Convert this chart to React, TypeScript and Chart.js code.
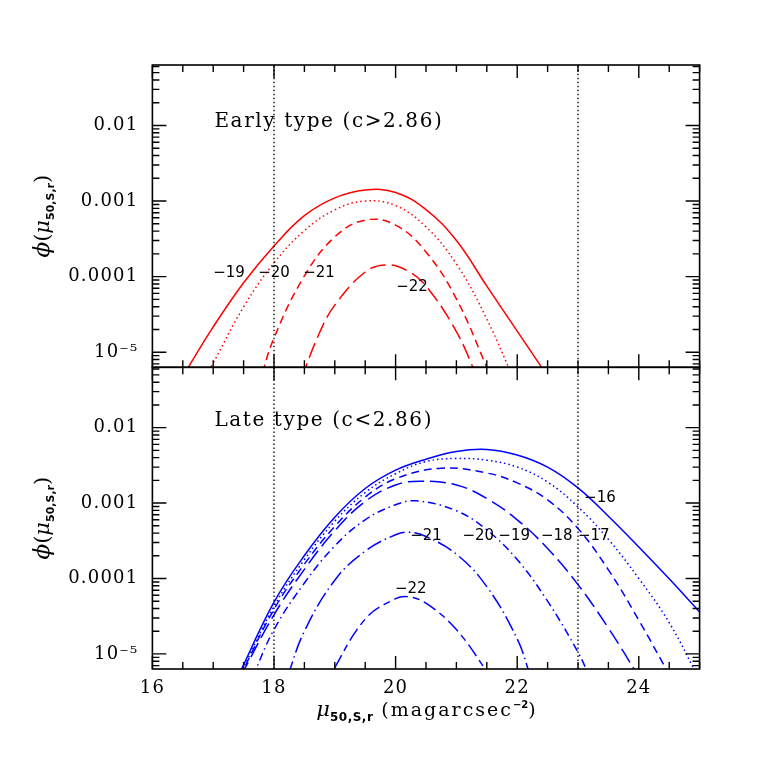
import React, { useEffect, useRef } from "react";
import { Chart, registerables } from "chart.js";
Chart.register(...registerables);

// ---------- axes ----------
const X_MIN = 16;
const X_MAX = 25;
const X_MINOR_STEP = 0.5;
const X_MAJOR_STEP = 2;
const Y_MIN = 6.31e-6;
const Y_MAX = 0.0631;
const X_TICK_LABELS = [16, 18, 20, 22, 24];
const Y_TICK_VALUES = [1e-5, 1e-4, 1e-3, 1e-2];
const Y_TICK_LABELS = ["10⁻⁵", "0.0001", "0.001", "0.01"];
const REF_LINES_X = [18, 23];

// ---------- Early type (c>2.86), red ----------
const E19_X = [16.5, 17, 17.5, 18, 18.5, 19, 19.5, 20, 20.5, 21, 21.5, 22, 22.5];
const E19_Y = [4.8e-6, 2.16e-5, 8.3e-5, 2.55e-4, 6.4e-4, 1.1e-3, 1.4e-3, 1.3e-3, 7.7e-4, 3.0e-4, 7.5e-5, 1.9e-5, 4.8e-6];
const E20_X = [16.9, 17, 17.5, 18, 18.5, 19, 19.5, 20, 20.5, 21, 21.5, 22];
const E20_Y = [5.1e-6, 7.2e-6, 3.97e-5, 1.52e-4, 4.06e-4, 7.64e-4, 1.0e-3, 8.7e-4, 4.55e-4, 1.47e-4, 2.75e-5, 3.4e-6];
const E21_X = [17.75, 18, 18.5, 19, 19.5, 20, 20.5, 21, 21.5, 21.6];
const E21_Y = [3.7e-6, 1.54e-5, 1.02e-4, 3.36e-4, 5.6e-4, 4.8e-4, 2.12e-4, 5.07e-5, 6.3e-6, 3.9e-6];
const E22_X = [18.45, 18.75, 19, 19.5, 19.85, 20.2, 20.5, 21, 21.35];
const E22_Y = [4.5e-6, 1.82e-5, 4.2e-5, 1.15e-4, 1.43e-4, 1.19e-4, 7.5e-5, 1.87e-5, 4.5e-6];

// ---------- Late type (c<2.86), blue ----------
const L16_X = [17.4, 18, 18.5, 19, 19.5, 20, 20.5, 21, 21.5, 22, 22.5, 23, 23.5, 24, 24.5, 25];
const L16_Y = [4.85e-6, 4.85e-5, 2.02e-4, 6.5e-4, 1.56e-3, 2.73e-3, 3.82e-3, 4.84e-3, 5.15e-3, 4.35e-3, 3.0e-3, 1.59e-3, 6.7e-4, 2.62e-4, 9.9e-5, 3.6e-5];
const L17_X = [17.42, 18, 18.5, 19, 19.5, 20, 20.5, 21, 21.5, 22, 22.5, 23, 23.5, 24, 24.5, 25];
const L17_Y = [4.85e-6, 4.27e-5, 1.78e-4, 5.75e-4, 1.38e-3, 2.45e-3, 3.55e-3, 3.9e-3, 3.7e-3, 3.0e-3, 1.9e-3, 8.9e-4, 3.3e-4, 1.0e-4, 2.6e-5, 4.5e-6];
const L18_X = [17.44, 18, 18.5, 19, 19.5, 20, 20.75, 21.5, 22, 22.5, 23, 23.5, 24, 24.55];
const L18_Y = [5.0e-6, 3.9e-5, 1.55e-4, 4.9e-4, 1.2e-3, 2.1e-3, 2.9e-3, 2.5e-3, 1.85e-3, 1.1e-3, 4.6e-4, 1.3e-4, 2.8e-5, 4.5e-6];
const L19_X = [17.45, 18, 18.5, 19, 19.5, 20, 20.4, 21, 21.5, 22, 22.5, 23, 23.5, 24.0];
const L19_Y = [5.0e-6, 3.3e-5, 1.32e-4, 4.3e-4, 1.05e-3, 1.74e-3, 1.95e-3, 1.74e-3, 1.15e-3, 6.0e-4, 2.5e-4, 8.3e-5, 2.2e-5, 5.0e-6];
const L20_X = [17.65, 18, 18.5, 19, 19.5, 20, 20.34, 21, 21.5, 22, 22.5, 23, 23.2];
const L20_Y = [5.0e-6, 2.1e-5, 8.7e-5, 2.7e-4, 6.0e-4, 9.5e-4, 1.07e-3, 7.9e-4, 4.4e-4, 1.78e-4, 5.0e-5, 1.05e-5, 4.8e-6];
const L21_X = [18.22, 18.5, 19, 19.5, 20, 20.23, 20.5, 21, 21.5, 22, 22.22];
const L21_Y = [5.0e-6, 2.0e-5, 9.5e-5, 2.3e-4, 3.8e-4, 4.1e-4, 3.6e-4, 2.1e-4, 7.8e-5, 1.58e-5, 5.0e-6];
const L22_X = [18.9, 19.5, 20, 20.2, 20.5, 21, 21.56];
const L22_Y = [4.8e-6, 2.9e-5, 5.4e-5, 5.75e-5, 4.7e-5, 2.1e-5, 5.0e-6];

// ---------- texts ----------
const EARLY_TITLE = "Early type (c>2.86)";
const LATE_TITLE = "Late type (c<2.86)";
const EARLY_LABELS = ["−19", "−20", "−21", "−22"];
const LATE_LABELS = ["−16", "−17", "−18", "−19", "−20", "−21", "−22"];

const RED = "#ff0000";
const BLUE = "#0000ff";
const SERIF = '"DejaVu Serif"';
const SANS = '"DejaVu Sans"';

const pts = (xs: number[], ys: number[]) => xs.map((x, i) => ({ x, y: ys[i] }));

function lineDs(xs: number[], ys: number[], color: string, dash: number[]) {
  return {
    data: pts(xs, ys),
    borderColor: color,
    borderWidth: 1.5,
    borderDash: dash,
    pointRadius: 0,
    fill: false,
    tension: 0.4,
    clip: 0,
  };
}

function refDs(x: number) {
  return {
    data: [{ x, y: Y_MIN }, { x, y: Y_MAX }],
    borderColor: "#000",
    borderWidth: 1.3,
    borderDash: [1.5, 2.5],
    pointRadius: 0,
    fill: false,
    tension: 0,
    clip: 0,
  };
}

type RichPart = { t: string; f: string; dy?: number; ls?: number };
function drawRich(ctx: any, parts: RichPart[], cx: number, by: number) {
  let w = 0;
  for (const p of parts) {
    ctx.font = p.f;
    ctx.letterSpacing = `${p.ls || 0}px`;
    w += ctx.measureText(p.t).width;
  }
  let x = cx - w / 2;
  ctx.textAlign = "left";
  ctx.textBaseline = "alphabetic";
  for (const p of parts) {
    ctx.font = p.f;
    ctx.letterSpacing = `${p.ls || 0}px`;
    ctx.fillText(p.t, x, by + (p.dy || 0));
    x += ctx.measureText(p.t).width;
  }
  ctx.letterSpacing = "0px";
}

const Y_TITLE: RichPart[] = [
  { t: "ϕ", f: `italic 23px ${SERIF}` },
  { t: "(", f: `21px ${SERIF}` },
  { t: "μ", f: `italic 21px ${SERIF}` },
  { t: "50,S,r", f: `bold 11px ${SANS}`, dy: 5 },
  { t: ")", f: `21px ${SERIF}` },
];
const X_TITLE: RichPart[] = [
  { t: "μ", f: `italic 21px ${SERIF}` },
  { t: "50,S,r", f: `bold 12px ${SANS}`, dy: 5, ls: 0.5 },
  { t: " (magarcsec", f: `19px ${SERIF}`, ls: 2 },
  { t: "−2", f: `bold 10px ${SANS}`, dy: -8 },
  { t: ")", f: `19px ${SERIF}` },
];

const spacingPlugin = {
  id: "spacing",
  beforeDraw(chart: any) {
    (chart.ctx as any).letterSpacing = "1.2px";
  },
};

const panelPlugin = {
  id: "panel",
  afterDraw(chart: any, _args: any, opts: any) {
    const { chartArea: a, scales } = chart;
    const ctx: any = chart.ctx;
    const xs = scales.x;
    const ys = scales.y;
    ctx.save();
    // frame
    ctx.strokeStyle = "#000";
    ctx.lineWidth = 1.6;
    ctx.setLineDash([]);
    ctx.strokeRect(a.left, a.top, a.right - a.left, a.bottom - a.top);
    // x ticks (inward, top and bottom)
    ctx.lineWidth = 1.4;
    ctx.beginPath();
    for (let v = X_MIN; v <= X_MAX + 1e-9; v += X_MINOR_STEP) {
      const px = xs.getPixelForValue(v);
      const len = Math.abs(v / X_MAJOR_STEP - Math.round(v / X_MAJOR_STEP)) < 1e-9 ? 13 : 7;
      ctx.moveTo(px, a.top);
      ctx.lineTo(px, a.top + len);
      ctx.moveTo(px, a.bottom);
      ctx.lineTo(px, a.bottom - len);
    }
    // y ticks (log, inward, left and right)
    for (let d = -7; d <= 0; d++) {
      for (let m = 1; m <= 9; m++) {
        const v = m * Math.pow(10, d);
        if (v < Y_MIN || v > Y_MAX) continue;
        const py = ys.getPixelForValue(v);
        const len = m === 1 ? 14 : 7;
        ctx.moveTo(a.left, py);
        ctx.lineTo(a.left + len, py);
        ctx.moveTo(a.right, py);
        ctx.lineTo(a.right - len, py);
      }
    }
    ctx.stroke();

    ctx.fillStyle = "#000";
    // panel title
    ctx.font = `20px ${SERIF}`;
    ctx.letterSpacing = "1.6px";
    ctx.textAlign = "left";
    ctx.textBaseline = "alphabetic";
    ctx.fillText(opts.title.text, xs.getPixelForValue(opts.title.x), ys.getPixelForValue(opts.title.y));
    // curve labels
    ctx.font = `15px ${SANS}`;
    ctx.letterSpacing = "0px";
    ctx.textAlign = "center";
    ctx.textBaseline = "middle";
    for (const l of opts.labels) {
      ctx.fillText(l.text, xs.getPixelForValue(l.x), ys.getPixelForValue(l.y));
    }
    // y title
    ctx.save();
    ctx.translate(49, (a.top + a.bottom) / 2);
    ctx.rotate(-Math.PI / 2);
    drawRich(ctx, Y_TITLE, 0, 0);
    ctx.restore();
    // x title
    if (opts.xTitle) {
      drawRich(ctx, X_TITLE, (a.left + a.right) / 2, 716);
    }
    ctx.restore();
  },
};

function makeConfig(isBottom: boolean, datasets: any[], title: any, labels: any[]): any {
  return {
    type: "line",
    data: { datasets },
    options: {
      responsive: false,
      animation: false,
      events: [],
      layout: {
        padding: isBottom
          ? { top: 367.3, bottom: 0, left: 0, right: 63.4 }
          : { top: 65, bottom: 763 - 367.3, left: 0, right: 63.4 },
      },
      plugins: {
        legend: { display: false },
        tooltip: { enabled: false },
        panel: { title, labels, xTitle: isBottom },
      },
      scales: {
        x: {
          type: "linear",
          min: X_MIN,
          max: X_MAX,
          display: isBottom,
          grid: { display: false, drawTicks: false },
          border: { display: false },
          afterFit: (s: any) => {
            s.height = isBottom ? 763 - 669 : 0;
          },
          afterBuildTicks: (s: any) => {
            s.ticks = X_TICK_LABELS.map((v) => ({ value: v }));
          },
          ticks: {
            autoSkip: false,
            maxRotation: 0,
            padding: 9,
            color: "#000",
            font: { family: "DejaVu Serif", size: 18 },
            callback: (v: number) => String(v),
          },
        },
        y: {
          type: "logarithmic",
          min: Y_MIN,
          max: Y_MAX,
          grid: { display: false, drawTicks: false },
          border: { display: false },
          afterFit: (s: any) => {
            s.width = 152.4;
          },
          afterBuildTicks: (s: any) => {
            s.ticks = Y_TICK_VALUES.map((v) => ({ value: v }));
          },
          ticks: {
            autoSkip: false,
            padding: 14,
            color: "#000",
            font: { family: "DejaVu Serif", size: 18 },
            callback: (v: number) => {
              const i = Y_TICK_VALUES.indexOf(v);
              return i >= 0 ? Y_TICK_LABELS[i] : "";
            },
          },
        },
      },
    },
    plugins: [spacingPlugin, panelPlugin],
  };
}

export default function App() {
  const topRef = useRef<HTMLCanvasElement>(null);
  const botRef = useRef<HTMLCanvasElement>(null);

  useEffect(() => {
    const topDatasets = [
      ...REF_LINES_X.map(refDs),
      lineDs(E19_X, E19_Y, RED, []),
      lineDs(E20_X, E20_Y, RED, [1.5, 3]),
      lineDs(E21_X, E21_Y, RED, [8, 5]),
      lineDs(E22_X, E22_Y, RED, [16, 6]),
    ];
    const botDatasets = [
      ...REF_LINES_X.map(refDs),
      lineDs(L16_X, L16_Y, BLUE, []),
      lineDs(L17_X, L17_Y, BLUE, [1.5, 3]),
      lineDs(L18_X, L18_Y, BLUE, [8, 5]),
      lineDs(L19_X, L19_Y, BLUE, [16, 6]),
      lineDs(L20_X, L20_Y, BLUE, [8, 4, 1.5, 4]),
      lineDs(L21_X, L21_Y, BLUE, [16, 4, 1.5, 4]),
      lineDs(L22_X, L22_Y, BLUE, [7, 5, 14, 5]),
    ];
    const topLabels = [
      { text: EARLY_LABELS[0], x: 17.26, y: 1.12e-4 },
      { text: EARLY_LABELS[1], x: 18.0, y: 1.12e-4 },
      { text: EARLY_LABELS[2], x: 18.74, y: 1.12e-4 },
      { text: EARLY_LABELS[3], x: 20.27, y: 7.3e-5 },
    ];
    const botLabels = [
      { text: LATE_LABELS[0], x: 23.36, y: 1.15e-3 },
      { text: LATE_LABELS[1], x: 23.26, y: 3.7e-4 },
      { text: LATE_LABELS[2], x: 22.65, y: 3.7e-4 },
      { text: LATE_LABELS[3], x: 21.95, y: 3.7e-4 },
      { text: LATE_LABELS[4], x: 21.36, y: 3.7e-4 },
      { text: LATE_LABELS[5], x: 20.5, y: 3.7e-4 },
      { text: LATE_LABELS[6], x: 20.25, y: 7.2e-5 },
    ];
    const c1 = new Chart(
      topRef.current!,
      makeConfig(false, topDatasets, { text: EARLY_TITLE, x: 17.02, y: 9.6e-3 }, topLabels)
    );
    const c2 = new Chart(
      botRef.current!,
      makeConfig(true, botDatasets, { text: LATE_TITLE, x: 17.02, y: 1.05e-2 }, botLabels)
    );
    return () => {
      c1.destroy();
      c2.destroy();
    };
  }, []);

  return (
    <div style={{ position: "absolute", left: 0, top: 0, width: 763, height: 763, background: "#fff" }}>
      <canvas ref={topRef} width={763} height={763} style={{ position: "absolute", left: 0, top: 0 }} />
      <canvas ref={botRef} width={763} height={763} style={{ position: "absolute", left: 0, top: 0 }} />
    </div>
  );
}
